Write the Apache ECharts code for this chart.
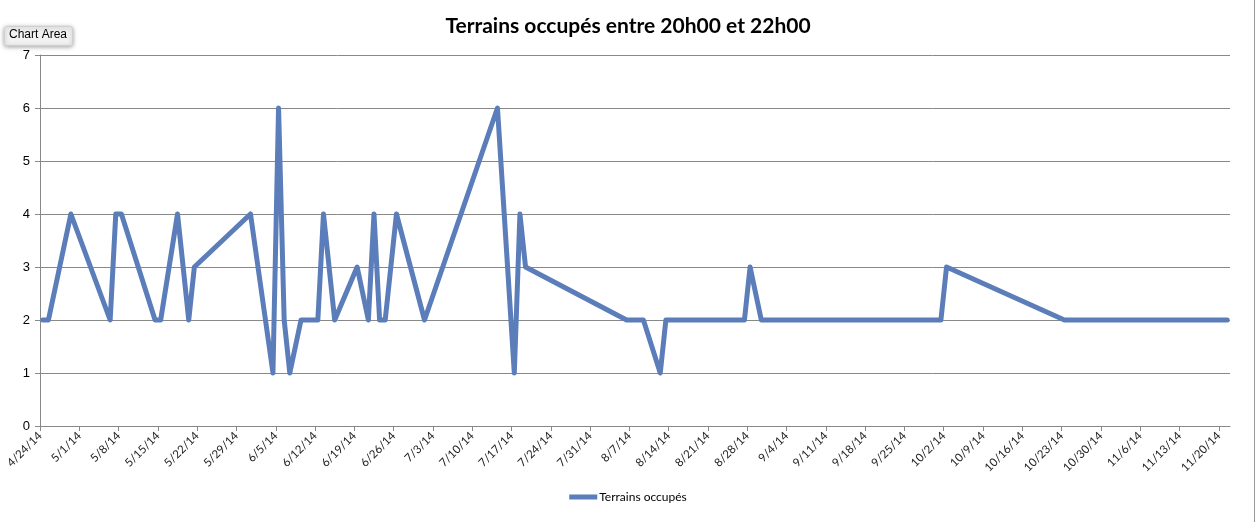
<!DOCTYPE html>
<html>
<head>
<meta charset="utf-8">
<script src="https://cdn.jsdelivr.net/npm/echarts@6/dist/echarts.min.js"></script>
<style>html,body{margin:0;padding:0;background:#fff}#c{width:1256px;height:522px}</style>
</head>
<body>
<div id="c"></div>
<script>
const startDate = '2014-04-24';
const endDate = '2014-11-22';
const dates = ['2014-04-24','2014-04-25','2014-04-29','2014-05-06','2014-05-07','2014-05-08','2014-05-14','2014-05-15','2014-05-18','2014-05-20','2014-05-21','2014-05-31','2014-06-04','2014-06-05','2014-06-06','2014-06-07','2014-06-09','2014-06-12','2014-06-13','2014-06-15','2014-06-19','2014-06-21','2014-06-22','2014-06-23','2014-06-24','2014-06-26','2014-07-01','2014-07-14','2014-07-17','2014-07-18','2014-07-19','2014-08-06','2014-08-09','2014-08-12','2014-08-13','2014-08-27','2014-08-28','2014-08-30','2014-10-01','2014-10-02','2014-10-23','2014-11-21'];
const values = [2,2,4,2,4,4,2,2,4,2,3,4,1,6,2,1,2,2,4,2,3,2,4,2,2,4,2,6,1,4,3,2,2,1,2,2,3,2,2,3,2,2];
const seriesName = 'Terrains occupés';
const titleText = 'Terrains occupés entre 20h00 et 22h00';

const DAY = 86400000;
const t0 = Date.parse(startDate);
function dayIndex(s){ return Math.round((Date.parse(s) - t0) / DAY); }
// Excel date axis: each day is a slot, point drawn at slot centre
const points = dates.map((d, i) => [dayIndex(d) + 0.5, values[i]]);
const axisMax = dayIndex(endDate);

function fmt(v){
  const d = new Date(t0 + v * DAY);
  return (d.getUTCMonth() + 1) + '/' + d.getUTCDate() + '/' + String(d.getUTCFullYear()).slice(2);
}

const chart = echarts.init(document.getElementById('c'), null, {renderer: 'canvas'});
chart.setOption({
  animation: false,
  backgroundColor: '#fff',
  title: {
    text: titleText, left: 'center', top: 11,
    textStyle: {fontFamily: 'Lato', fontWeight: 'bold', fontSize: 21, color: '#000'}
  },
  grid: {left: 40, right: 26, top: 55, bottom: 96, containLabel: false},
  legend: {
    bottom: 14, left: 'center', icon: 'rect', itemWidth: 28, itemHeight: 5, itemGap: 4,
    textStyle: {fontFamily: 'Lato', fontSize: 12, color: '#000', padding: [0,0,0,-3]},
    data: [seriesName]
  },
  xAxis: {
    type: 'value', min: 0, max: axisMax, interval: 7,
    axisLine: {show: true, lineStyle: {color: '#888', width: 1}},
    axisTick: {show: true, inside: false, length: 5, lineStyle: {color: '#888'}},
    splitLine: {show: false},
    axisLabel: {
      rotate: 45, fontFamily: 'Lato', fontSize: 11.5, color: '#222', margin: 8,
      showMaxLabel: false, formatter: fmt
    }
  },
  yAxis: {
    type: 'value', min: 0, max: 7, interval: 1,
    axisLine: {show: true, lineStyle: {color: '#888', width: 1}},
    axisTick: {show: true, length: 5, lineStyle: {color: '#888'}},
    splitLine: {show: true, lineStyle: {color: '#888', width: 1}},
    axisLabel: {fontFamily: 'Liberation Sans', fontSize: 13, color: '#000', margin: 10}
  },
  series: [{
    name: seriesName, type: 'line', data: points, showSymbol: false, symbol: 'none',
    lineStyle: {color: '#5b7dba', width: 5, cap: 'round', join: 'round'},
    itemStyle: {color: '#5b7dba'}
  }],
  graphic: [
    {type: 'rect', left: 1254, top: 0, shape: {width: 1, height: 522}, style: {fill: '#999'}},
    {type: 'rect', left: 4, top: 26, shape: {width: 68, height: 19, r: 2},
     style: {fill: '#f2f2f2', stroke: '#d0d0d0', lineWidth: 1, shadowBlur: 4, shadowColor: 'rgba(0,0,0,0.35)', shadowOffsetY: 1}},
    {type: 'text', left: 9, top: 29, style: {text: 'Chart Area', fontFamily: 'Liberation Sans', fontSize: 12, fill: '#000'}}
  ]
});
</script>
</body>
</html>
